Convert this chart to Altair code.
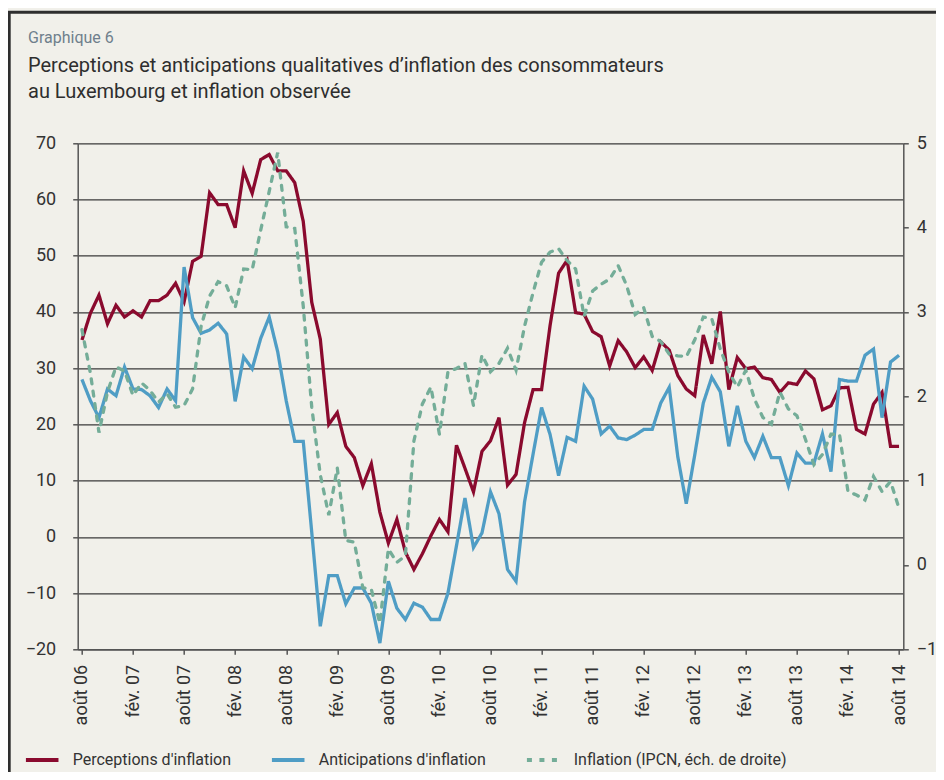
import altair as alt
import pandas as pd

# ---------------- data ----------------
tick_labels = ["août 06", "fév. 07", "août 07", "fév. 08", "août 08", "fév. 09",
               "août 09", "fév. 10", "août 10", "fév. 11", "août 11", "fév. 12",
               "août 12", "fév. 13", "août 13", "fév. 14", "août 14"]

series_names = ["Perceptions d'inflation",
                "Anticipations d'inflation",
                "Inflation (IPCN, éch. de droite)"]

# monthly values, Aug 2006 .. Aug 2014 (97 months)
perceptions = [35.0, 39.8, 43.0, 37.9, 41.2, 39.1, 40.2, 39.1, 42.0, 42.0,
               43.0, 45.1, 41.8, 49.0, 49.9, 61.2, 59.1, 59.1, 55.0, 65.1,
               61.1, 67.1, 68.0, 65.1, 65.1, 63.0, 56.1, 41.7, 35.2, 20.0,
               22.1, 16.1, 14.1, 9.1, 13.0, 4.4, -1.1, 3.1, -2.7, -5.8,
               -3.0, 0.2, 3.1, 0.9, 16.3, 12.2, 8.0, 15.2, 17.1, 21.2,
               9.2, 11.1, 20.3, 26.2, 26.2, 37.6, 46.9, 49.2, 39.9, 39.6,
               36.5, 35.6, 30.4, 34.9, 32.9, 30.1, 32.0, 29.6, 34.7, 33.2,
               28.7, 26.3, 25.1, 35.9, 30.8, 40.1, 26.2, 31.9, 29.9, 30.2,
               28.3, 28.0, 25.7, 27.4, 27.1, 29.5, 28.1, 22.6, 23.3, 26.5,
               26.6, 19.1, 18.3, 23.6, 25.7, 16.1, 16.1]

anticipations = [28.0, 24.2, 21.2, 26.3, 25.1, 30.2, 26.3, 26.2, 25.1, 23.0,
                 26.3, 24.2, 48.0, 39.0, 36.2, 36.8, 38.0, 36.1, 24.1, 32.0,
                 29.9, 35.3, 39.1, 32.9, 24.2, 17.0, 17.0, 0.8, -15.9, -6.9,
                 -6.9, -11.9, -9.1, -9.1, -11.8, -18.9, -7.9, -12.7, -14.7, -11.8,
                 -12.5, -14.7, -14.7, -10.0, -1.6, 6.9, -1.9, 0.7, 8.0, 4.1,
                 -5.8, -7.9, 6.2, 14.7, 23.0, 18.2, 10.9, 17.7, 17.0, 26.8,
                 24.5, 18.3, 19.7, 17.6, 17.3, 18.1, 19.1, 19.1, 23.8, 26.6,
                 14.3, 5.9, 14.6, 23.8, 28.4, 25.8, 16.1, 23.3, 17.0, 14.1,
                 17.9, 14.1, 14.1, 9.1, 14.9, 13.1, 13.1, 18.3, 11.6, 28.0,
                 27.7, 27.7, 32.3, 33.4, 21.2, 31.1, 32.3]

inflation = [2.79, 2.27, 1.57, 2.05, 2.35, 2.30, 2.01, 2.16, 2.07, 1.93,
             2.03, 1.87, 1.89, 2.09, 2.83, 3.19, 3.36, 3.31, 3.05, 3.51,
             3.50, 3.97, 4.43, 4.89, 4.01, 3.99, 3.07, 1.87, 1.07, 0.59,
             1.15, 0.29, 0.27, -0.27, -0.29, -0.69, 0.19, 0.03, 0.11, 1.47,
             1.91, 2.11, 1.55, 2.29, 2.33, 2.39, 1.89, 2.49, 2.29, 2.39,
             2.57, 2.31, 2.83, 3.23, 3.59, 3.71, 3.75, 3.61, 3.51, 2.95,
             3.25, 3.33, 3.39, 3.55, 3.31, 2.97, 3.05, 2.71, 2.65, 2.50,
             2.48, 2.47, 2.67, 2.94, 2.92, 2.56, 2.29, 2.11, 2.31, 1.97,
             1.75, 1.67, 2.05, 1.85, 1.77, 1.49, 1.19, 1.31, 1.55, 1.55,
             0.87, 0.83, 0.77, 1.05, 0.87, 0.99, 0.67]

series_colors = ["#8a0a2e", "#4f9dc5", "#74ad98"]
series_dashes = [[1, 0], [1, 0], [5, 7.5]]

# ---------------- table ----------------
months = list(range(len(perceptions)))
rows = []
for name, vals in zip(series_names, [perceptions, anticipations, inflation]):
    for m, v in zip(months, vals):
        rows.append({"month": m, "series": name, "value": v})
df = pd.DataFrame(rows)

label_expr = "[" + ",".join("'" + t + "'" for t in tick_labels) + "][round(datum.value / 6)]"

FONT = "Roboto"
TXT = "#333333"
AXC = "#555555"

x_enc = alt.X(
    "month:Q",
    scale=alt.Scale(domain=[-0.5, len(months) - 0.5], nice=False, zero=False),
    axis=alt.Axis(values=list(range(0, len(months), 6)), labelExpr=label_expr,
                  labelAngle=270, labelAlign="right", labelBaseline="middle",
                  title=None, grid=False, domainColor=AXC, domainWidth=1.5,
                  tickColor=AXC, tickWidth=1.5, tickSize=5, labelPadding=10,
                  labelFontSize=18, labelColor=TXT, labelFont=FONT),
)

legend_cfg = dict(title=None, orient="none", legendX=-54, legendY=598,
                  direction="horizontal", symbolType="stroke",
                  symbolSize=1060, symbolStrokeWidth=4,
                  labelFontSize=16, labelFont=FONT, labelColor=TXT,
                  labelOffset=12, columnPadding=32, labelLimit=500)

color_enc = alt.Color(
    "series:N",
    scale=alt.Scale(domain=series_names, range=series_colors),
    legend=alt.Legend(**legend_cfg),
)
dash_enc = alt.StrokeDash(
    "series:N",
    scale=alt.Scale(domain=series_names, range=series_dashes),
    legend=alt.Legend(**legend_cfg),
)

left = alt.Chart(df).transform_filter(
    alt.datum.series != series_names[2]
).mark_line(strokeWidth=3.3).encode(
    x=x_enc,
    y=alt.Y("value:Q",
            scale=alt.Scale(domain=[-20, 70], nice=False, zero=False),
            axis=alt.Axis(orient="left", values=list(range(-20, 71, 10)),
                          title=None, grid=True, gridColor="#3a3a3a", gridWidth=1.3,
                          domainColor=AXC, domainWidth=1.5, tickColor=AXC,
                          tickWidth=1.5, tickSize=5, labelPadding=17,
                          labelFontSize=18, labelColor=TXT, labelFont=FONT)),
    color=color_enc,
    strokeDash=dash_enc,
)

right = alt.Chart(df).transform_filter(
    alt.datum.series == series_names[2]
).mark_line(strokeWidth=3.3, strokeCap="round").encode(
    x=x_enc,
    y=alt.Y("value:Q",
            scale=alt.Scale(domain=[-1, 5], nice=False, zero=False),
            axis=alt.Axis(orient="right", values=list(range(-1, 6)),
                          title=None, grid=False,
                          domainColor=AXC, domainWidth=1.5, tickColor=AXC,
                          tickWidth=1.5, tickSize=5, labelPadding=8,
                          labelFontSize=18, labelColor=TXT, labelFont=FONT)),
    color=color_enc,
    strokeDash=dash_enc,
)

frame = alt.Chart(pd.DataFrame({"f": [0]})).mark_rect(
    filled=False, stroke="#2e2e2e", strokeWidth=3
).encode(
    x=alt.value(-68.5), x2=alt.value(1000),
    y=alt.value(-131), y2=alt.value(900),
)

chart = alt.layer(frame, left, right).resolve_scale(
    y="independent"
).properties(
    width=825.6,
    height=506,
    padding={"left": 69.7, "top": 135.3, "right": 32.7, "bottom": 122.7},
    autosize=alt.AutoSizeParams(type="none"),
    title=alt.TitleParams(
        text="Graphique 6",
        subtitle=["Perceptions et anticipations qualitatives d’inflation des consommateurs",
                  "au Luxembourg et inflation observée"],
        anchor="start", frame="group", orient="top", dx=-49.7, offset=0, dy=91,
        font=FONT, fontSize=16, fontWeight="normal", color="#6f7f8c",
        subtitleFont=FONT, subtitleFontSize=20, subtitleColor="#2e2e2e",
        subtitleLineHeight=26, subtitlePadding=10,
    ),
).configure(
    background="#f1f0ea",
).configure_view(
    stroke=None,
)

chart.save("out.html", embed_options={"renderer": "svg", "actions": False})
